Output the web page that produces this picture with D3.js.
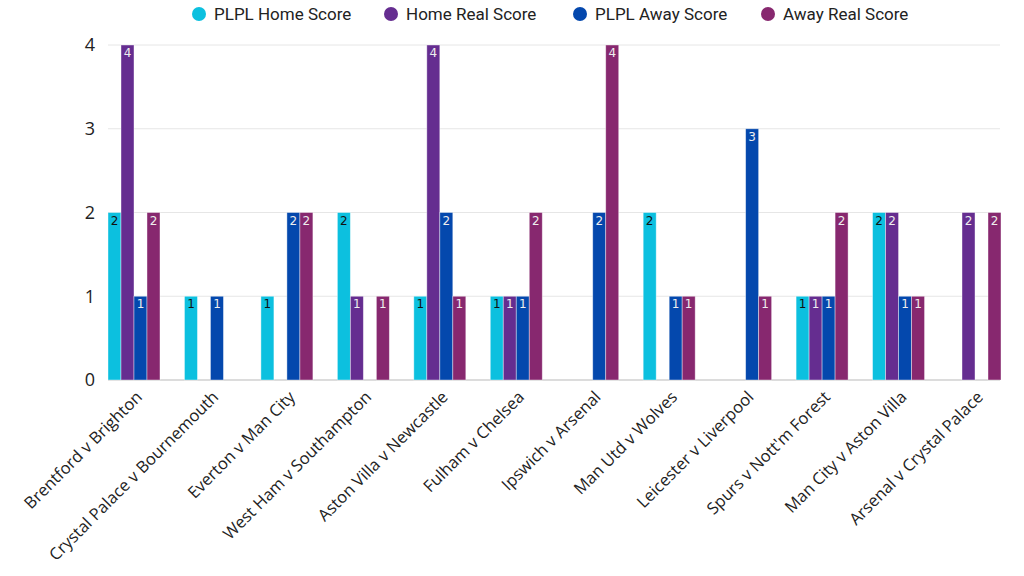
<!DOCTYPE html>
<html><head><meta charset="utf-8">
<script src="https://cdn.jsdelivr.net/npm/d3@7"></script>
<style>body{margin:0;background:#fff}svg{display:block}</style>
</head><body>
<svg id="c" width="1024" height="576"></svg>
<script>
const categories = ["Brentford v Brighton","Crystal Palace v Bournemouth","Everton v Man City","West Ham v Southampton","Aston Villa v Newcastle","Fulham v Chelsea","Ipswich v Arsenal","Man Utd v Wolves","Leicester v Liverpool","Spurs v Nott'm Forest","Man City v Aston Villa","Arsenal v Crystal Palace"];
const seriesNames = ["PLPL Home Score","Home Real Score","PLPL Away Score","Away Real Score"];
const plplHome = [2,1,1,2,1,1,0,2,0,1,2,0];
const homeReal = [4,0,0,1,4,1,0,0,0,1,2,2];
const plplAway = [1,1,2,0,2,1,2,1,3,1,1,0];
const awayReal = [2,0,2,1,1,2,4,1,1,2,1,2];
const yTicks = [0,1,2,3,4];
const colors = ["#0cc0df","#652d90","#0448ad","#87286f"];
const labelColors = ["#111","#eee","#eee","#eee"];
const series = [plplHome, homeReal, plplAway, awayReal];

(function(){
const svg = d3.select("#c");
const pLeft = 108, pRight = 1001, pTop = 45, pBottom = 380;
const x = d3.scaleBand().domain(categories).range([pLeft, pRight]).paddingInner(0.32).paddingOuter(0);
const xs = d3.scaleBand().domain(d3.range(4)).range([0, x.bandwidth()]);
const y = d3.scaleLinear().domain([0,4]).range([pBottom, pTop]);

svg.append("g").selectAll("line").data(yTicks).join("line")
  .attr("x1", pLeft).attr("x2", 1000)
  .attr("y1", d=>y(d)).attr("y2", d=>y(d))
  .attr("stroke", d=> d===0 ? "#dcdcdc" : "#e6e6e6")
  .attr("stroke-width", d=> d===0 ? 2 : 1);

svg.append("g").selectAll("text").data(yTicks).join("text")
  .attr("x", 95).attr("y", d=>y(d)).attr("dy","0.35em")
  .attr("text-anchor","end")
  .attr("font-family","Open Sans, sans-serif").attr("font-size",18).attr("fill","#222")
  .text(d=>d);

const g = svg.append("g");
categories.forEach((c,i)=>{
  series.forEach((s,j)=>{
    const v = s[i];
    if (!v) return;
    const bx = x(c) + xs(j);
    g.append("rect").attr("x", bx).attr("y", y(v)).attr("width", xs.bandwidth()).attr("height", y(0)-y(v))
      .attr("fill", colors[j]).attr("stroke","#fff").attr("stroke-opacity",0.5).attr("stroke-width",0.8);
    g.append("text").attr("x", bx + xs.bandwidth()/2).attr("y", y(v)+12)
      .attr("text-anchor","middle").attr("font-family","DejaVu Sans, sans-serif").attr("font-size",12)
      .attr("fill", labelColors[j]).text(v);
  });
});

svg.append("g").selectAll("text").data(categories).join("text")
  .attr("transform", d=>`translate(${x(d)+x.bandwidth()/2+5},${394}) rotate(-45)`)
  .attr("text-anchor","end").attr("dy","0.35em")
  .attr("font-family","Open Sans, sans-serif").attr("font-size",16.5).attr("fill","#222")
  .text(d=>d);

const lx = [199, 391, 580, 768];
const lg = svg.append("g");
seriesNames.forEach((n,j)=>{
  lg.append("circle").attr("cx", lx[j]).attr("cy", 14).attr("r", 7).attr("fill", colors[j]);
  lg.append("text").attr("x", lx[j]+15).attr("y", 14).attr("dy","0.35em")
    .attr("font-family","Roboto, sans-serif").attr("font-size",17).attr("fill","#222").text(n);
});
})();
</script>
</body></html>
